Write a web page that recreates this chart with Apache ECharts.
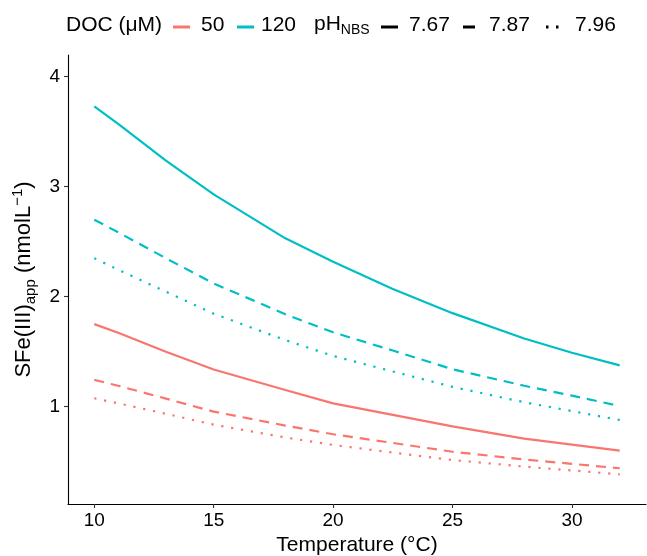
<!DOCTYPE html>
<html>
<head>
<meta charset="utf-8">
<script src="https://cdn.jsdelivr.net/npm/echarts@6/dist/echarts.min.js"></script>
<style>html,body{margin:0;padding:0;background:#fff}#c{width:647px;height:556px}</style>
</head>
<body>
<div id="c"></div>
<script>
// Temperature (°C)
const temps = [10, 11, 13, 15, 18, 20, 22.5, 25, 28, 30, 32];
// SFe(III)app (nmol/L) for DOC 50 µM
const doc50_ph767 = [1.75, 1.672, 1.50, 1.338, 1.152, 1.03, 0.925, 0.82, 0.71, 0.655, 0.60];
const doc50_ph787 = [1.243, 1.19, 1.073, 0.955, 0.828, 0.749, 0.67, 0.59, 0.52, 0.48, 0.44];
const doc50_ph796 = [1.076, 1.03, 0.935, 0.836, 0.72, 0.652, 0.583, 0.515, 0.455, 0.42, 0.385];
// DOC 120 µM
const doc120_ph767 = [3.73, 3.57, 3.237, 2.93, 2.53, 2.318, 2.07, 1.85, 1.62, 1.49, 1.375];
const doc120_ph787 = [2.70, 2.585, 2.349, 2.12, 1.84, 1.676, 1.51, 1.34, 1.19, 1.10, 1.005];
const doc120_ph796 = [2.35, 2.245, 2.045, 1.845, 1.605, 1.461, 1.32, 1.18, 1.04, 0.96, 0.879];

const xTicks = [10, 15, 20, 25, 30];
const yTicks = [1, 2, 3, 4];
const docLevels = ['50', '120'];
const phLevels = ['7.67', '7.87', '7.96'];

const RED = '#F8766D', BLUE = '#00BFC4';
const FONT = '"Liberation Sans", Arial, sans-serif';
const dashMap = { '7.67': 'solid', '7.87': [10, 7], '7.96': [2.2, 7.8] };

function mk(name, arr, color, ph) {
  return {
    name: name, type: 'line', showSymbol: false, smooth: false,
    data: temps.map((t, i) => [t, arr[i]]),
    lineStyle: { color: color, width: 2.2, type: dashMap[ph], cap: 'butt' },
    itemStyle: { color: color }, z: 3
  };
}

const chart = echarts.init(document.getElementById('c'), null, { renderer: 'canvas' });
const legY = 27;
const LF = '21px ' + FONT;
chart.setOption({
  backgroundColor: '#fff',
  animation: false,
  grid: { left: 68, right: 1, top: 55, bottom: 52, containLabel: false, outerBoundsMode: 'none' },
  xAxis: {
    type: 'value', min: 8.9, max: 33.1,
    name: 'Temperature (°C)', nameLocation: 'middle', nameGap: 31,
    nameTextStyle: { fontFamily: FONT, fontSize: 21, color: '#000' },
    axisLine: { show: true, onZero: false, lineStyle: { color: '#000', width: 1.1 } },
    axisTick: { show: true, length: 4, customValues: xTicks, lineStyle: { color: '#333', width: 1.1 } },
    axisLabel: { customValues: xTicks, fontFamily: FONT, fontSize: 19, color: '#000', margin: 7 },
    splitLine: { show: false }
  },
  yAxis: {
    type: 'value', min: 0.115, max: 4.197,
    name: 'SFe(III){sub|app} (nmolL{sup|−1})', nameLocation: 'middle', nameGap: 30,
    nameTextStyle: {
      fontFamily: FONT, fontSize: 22, color: '#000',
      rich: {
        sub: { fontFamily: FONT, fontSize: 15, color: '#000', padding: [13, 0, 0, 0] },
        sup: { fontFamily: FONT, fontSize: 15, color: '#000', padding: [0, 0, 13, 0] }
      }
    },
    axisLine: { show: true, onZero: false, lineStyle: { color: '#000', width: 1.1 } },
    axisTick: { show: true, length: 4, customValues: yTicks, lineStyle: { color: '#333', width: 1.1 } },
    axisLabel: { customValues: yTicks, fontFamily: FONT, fontSize: 19, color: '#000', margin: 8 },
    splitLine: { show: false }
  },
  series: [
    mk('50 / 7.67', doc50_ph767, RED, '7.67'),
    mk('50 / 7.87', doc50_ph787, RED, '7.87'),
    mk('50 / 7.96', doc50_ph796, RED, '7.96'),
    mk('120 / 7.67', doc120_ph767, BLUE, '7.67'),
    mk('120 / 7.87', doc120_ph787, BLUE, '7.87'),
    mk('120 / 7.96', doc120_ph796, BLUE, '7.96')
  ],
  graphic: [
    { type: 'text', left: 66, top: legY - 12, style: { text: 'DOC (μM)', font: LF, fill: '#000' } },
    { type: 'line', shape: { x1: 173, y1: legY, x2: 190, y2: legY }, style: { stroke: RED, lineWidth: 3 } },
    { type: 'text', left: 201, top: legY - 12, style: { text: docLevels[0], font: LF, fill: '#000' } },
    { type: 'line', shape: { x1: 237, y1: legY, x2: 254, y2: legY }, style: { stroke: BLUE, lineWidth: 3 } },
    { type: 'text', left: 261, top: legY - 12, style: { text: docLevels[1], font: LF, fill: '#000' } },
    { type: 'text', left: 314, top: legY - 13, style: {
        text: '{a|pH}{b|NBS}', fill: '#000',
        rich: { a: { fontFamily: FONT, fontSize: 21, fill: '#000' }, b: { fontFamily: FONT, fontSize: 14, fill: '#000', padding: [12, 0, 0, 0] } }
      } },
    { type: 'line', shape: { x1: 381, y1: legY, x2: 398, y2: legY }, style: { stroke: '#000', lineWidth: 3 } },
    { type: 'text', left: 409, top: legY - 12, style: { text: phLevels[0], font: LF, fill: '#000' } },
    { type: 'line', shape: { x1: 463, y1: legY, x2: 475, y2: legY }, style: { stroke: '#000', lineWidth: 3 } },
    { type: 'text', left: 489, top: legY - 12, style: { text: phLevels[1], font: LF, fill: '#000' } },
    { type: 'line', shape: { x1: 546, y1: legY, x2: 559, y2: legY }, style: { stroke: '#000', lineWidth: 3, lineDash: [2.5, 7.5] } },
    { type: 'text', left: 575, top: legY - 12, style: { text: phLevels[2], font: LF, fill: '#000' } }
  ]
});
</script>
</body>
</html>
